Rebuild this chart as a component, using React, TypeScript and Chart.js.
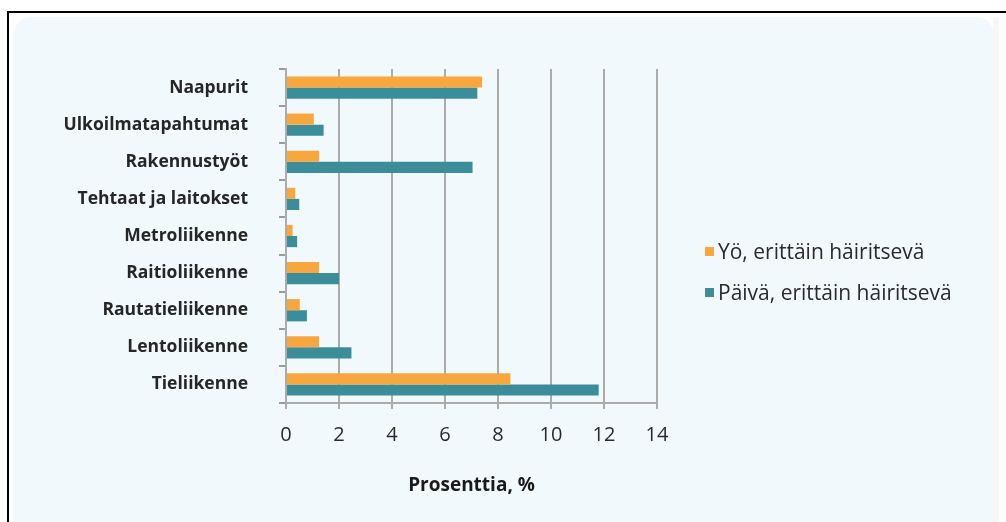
import React, { useEffect, useRef } from "react";
import { Chart, registerables } from "chart.js";

Chart.register(...registerables);

const categories = [
  "Naapurit",
  "Ulkoilmatapahtumat",
  "Rakennustyöt",
  "Tehtaat ja laitokset",
  "Metroliikenne",
  "Raitioliikenne",
  "Rautatieliikenne",
  "Lentoliikenne",
  "Tieliikenne",
];
const yoValues = [7.4, 1.05, 1.25, 0.35, 0.25, 1.25, 0.52, 1.25, 8.47];
const paivaValues = [7.22, 1.42, 7.04, 0.5, 0.42, 2.0, 0.79, 2.47, 11.8];
const xTickValues = [0, 2, 4, 6, 8, 10, 12, 14];
const seriesNames = ["Yö, erittäin häiritsevä", "Päivä, erittäin häiritsevä"];
const seriesColors = ["#F8A73E", "#3B8E99"];
const axisTitle = "Prosenttia, %";

const W = 1006;
const H = 522;

export default function App() {
  const ref = useRef<HTMLCanvasElement | null>(null);

  useEffect(() => {
    if (!ref.current) return;
    const chart = new Chart(ref.current, {
      type: "bar",
      data: {
        labels: categories,
        datasets: [
          {
            label: seriesNames[0],
            data: yoValues,
            backgroundColor: seriesColors[0],
            barPercentage: 1,
            categoryPercentage: 0.6,
          },
          {
            label: seriesNames[1],
            data: paivaValues,
            backgroundColor: seriesColors[1],
            barPercentage: 1,
            categoryPercentage: 0.6,
          },
        ],
      },
      options: {
        indexAxis: "y",
        responsive: false,
        animation: false,
        layout: { padding: { left: 0, top: 69, right: W - 657, bottom: 0 } },
        plugins: {
          legend: { display: false },
          tooltip: { enabled: false },
        },
        scales: {
          x: {
            min: 0,
            max: 14,
            afterBuildTicks: (s: any) => {
              s.ticks = xTickValues.map((v) => ({ value: v }));
            },
            afterFit: (s: any) => {
              s.height = H - 403;
            },
            grid: { color: "#ababab", lineWidth: 2, tickLength: 6 },
            border: { color: "#ababab", width: 2 },
            ticks: {
              color: "#2a2a2a",
              padding: 14,
              font: { family: "'Open Sans', sans-serif", size: 20 },
            },
            title: {
              display: true,
              text: axisTitle,
              color: "#1a1a1a",
              font: { family: "'Open Sans', sans-serif", size: 19, weight: "bold" },
              padding: { top: 0, bottom: 25 },
            },
          },
          y: {
            afterFit: (s: any) => {
              s.width = 286;
            },
            grid: {
              drawOnChartArea: false,
              drawTicks: true,
              tickLength: 7,
              color: "#9a9a9a",
              lineWidth: 2,
              offset: true,
            },
            border: { color: "#ababab", width: 2 },
            ticks: {
              color: "#262626",
              padding: 31,
              font: { family: "'Open Sans', sans-serif", size: 17.5, weight: "bold" },
            },
          },
        },
      },
    });
    return () => chart.destroy();
  }, []);

  return (
    <div
      style={{
        position: "absolute",
        left: 0,
        top: 0,
        width: W,
        height: H,
        background: "#ffffff",
        overflow: "hidden",
      }}
    >
      <div
        style={{
          position: "absolute",
          left: 7,
          top: 11,
          right: -10,
          bottom: -10,
          borderTop: "2px solid #000",
          borderLeft: "2px solid #000",
        }}
      />
      <div
        style={{
          position: "absolute",
          left: 993,
          top: 17,
          width: 6,
          bottom: 0,
          background: "#f7f7f7",
        }}
      />
      <div
        style={{
          position: "absolute",
          left: 14,
          top: 17,
          width: 979,
          bottom: -20,
          background: "#f2f9fc",
          borderRadius: 16,
        }}
      />
      <canvas
        ref={ref}
        width={W}
        height={H}
        style={{ position: "absolute", left: 0, top: 0, display: "block" }}
      />
      <div
        style={{
          position: "absolute",
          left: 705,
          top: 231,
          fontFamily: "'Open Sans', sans-serif",
          fontSize: 21,
          color: "#2a2a2a",
          lineHeight: "41px",
        }}
      >
        {seriesNames.map((n, i) => (
          <div key={n} style={{ display: "flex", alignItems: "center", whiteSpace: "nowrap" }}>
            <span
              style={{
                display: "inline-block",
                width: 9,
                height: 9,
                background: seriesColors[i],
                marginRight: 4,
              }}
            />
            <span>{n}</span>
          </div>
        ))}
      </div>
    </div>
  );
}
